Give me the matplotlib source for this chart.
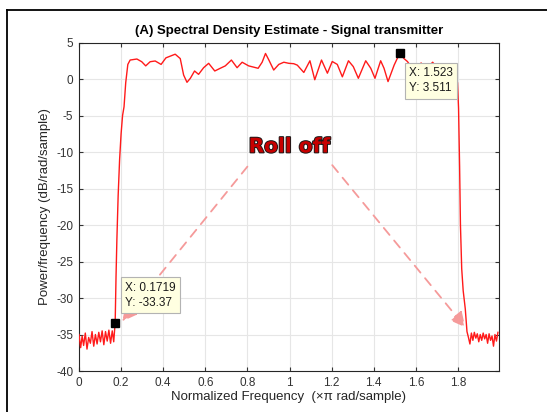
import matplotlib.pyplot as plt
import matplotlib.patheffects as pe
from matplotlib.lines import Line2D

plt.rcParams['font.family'] = ['Liberation Sans', 'DejaVu Sans']
plt.rcParams['axes.unicode_minus'] = False

# Welch PSD estimate of the transmitted signal (normalized frequency, x pi rad/sample)
freq = [0.000, 0.008, 0.015, 0.022, 0.030, 0.038, 0.046, 0.054, 0.062, 0.070,
        0.078, 0.086, 0.094, 0.102, 0.110, 0.118, 0.126, 0.134, 0.142, 0.150,
        0.158, 0.165, 0.1719, 0.176, 0.180, 0.186, 0.193, 0.200, 0.207, 0.214,
        0.222, 0.232, 0.243, 0.275, 0.298, 0.317, 0.338, 0.362, 0.390, 0.413,
        0.457, 0.481, 0.497, 0.513, 0.529, 0.549, 0.568, 0.592, 0.616, 0.645,
        0.671, 0.695, 0.724, 0.751, 0.775, 0.806, 0.851, 0.870, 0.886, 0.902,
        0.925, 0.949, 0.973, 0.997, 1.020, 1.037, 1.068, 1.097, 1.120, 1.152,
        1.180, 1.203, 1.227, 1.251, 1.280, 1.303, 1.327, 1.362, 1.386, 1.406,
        1.433, 1.449, 1.468, 1.497, 1.523, 1.544, 1.560, 1.580, 1.600, 1.625,
        1.650, 1.680, 1.710, 1.740, 1.770, 1.790, 1.798, 1.803, 1.808, 1.812,
        1.818, 1.825, 1.835, 1.843, 1.850, 1.857, 1.864, 1.871, 1.878, 1.885,
        1.892, 1.899, 1.906, 1.913, 1.920, 1.927, 1.934, 1.941, 1.948, 1.955,
        1.962, 1.969, 1.976, 1.983, 1.990]
psd_db = [-35.0, -36.8, -35.2, -36.5, -34.8, -37.0, -35.4, -36.2, -34.6, -36.6,
          -35.0, -36.3, -34.7, -36.0, -34.5, -36.4, -34.6, -35.9, -34.4, -36.2,
          -34.5, -36.0, -33.37, -27.0, -22.0, -16.0, -11.0, -7.5, -5.0, -3.8,
          -0.5, 2.0, 2.6, 2.74, 2.37, 1.8, 2.37, 2.47, 2.0, 2.9,
          3.4, 2.8, 0.55, -0.45, 0.1, 1.1, 0.64, 1.55, 2.15, 1.1,
          1.47, 1.8, 2.6, 1.55, 2.3, 1.8, 1.47, 2.3, 3.5, 2.6,
          1.23, 2.0, 2.3, 2.15, 2.1, 1.9, 0.9, 2.5, -0.1, 2.6,
          0.8, 2.4, 2.0, 0.3, 2.5, 1.7, 0.1, 2.5, 1.47, 0.1,
          2.5, 1.47, -0.35, 1.9, 3.511, 2.8, 2.4, 1.6, 1.0, 2.2,
          1.4, 2.3, 1.2, 2.0, 1.0, 0.3, -0.5, -4.0, -12.0, -20.0,
          -26.0, -29.0, -31.5, -34.6, -35.4, -36.3, -34.8, -35.8, -34.7, -35.5,
          -34.9, -36.0, -35.0, -35.8, -34.8, -35.6, -35.0, -36.2, -34.9, -35.8,
          -35.2, -36.6, -35.0, -35.9, -34.7]

# data cursor points
tips = [(1.523, 3.511), (0.1719, -33.37)]
tip_labels = ['X: 1.523\nY: 3.511', 'X: 0.1719\nY: -33.37']

xticks = [0, 0.2, 0.4, 0.6, 0.8, 1.0, 1.2, 1.4, 1.6, 1.8]
xticklabels = ['0', '0.2', '0.4', '0.6', '0.8', '1', '1.2', '1.4', '1.6', '1.8']
yticks = [-40, -35, -30, -25, -20, -15, -10, -5, 0, 5]

fig = plt.figure(figsize=(5.47, 4.12), dpi=100)
ax = fig.add_axes([0.1444, 0.0995, 0.7678, 0.7973])

ax.plot(freq, psd_db, color='#ff1a1a', lw=1.0, zorder=3)
ax.set_xlim(0, 1.995)
ax.set_ylim(-40, 5)
ax.set_xticks(xticks)
ax.set_xticklabels(xticklabels)
ax.set_yticks(yticks)
ax.grid(True, color='#e6e6e6', lw=0.8)
ax.set_axisbelow(True)
ax.tick_params(direction='in', length=3, top=True, right=True,
               labelsize=8.5, colors='#333333', pad=4)
for s in ax.spines.values():
    s.set_color('#262626')
    s.set_linewidth(0.8)

ax.set_title('(A) Spectral Density Estimate - Signal transmitter',
             fontsize=9.5, fontweight='bold', pad=6)
ax.set_xlabel('Normalized Frequency  (\u00d7\u03c0 rad/sample)', fontsize=9.5,
              color='#262626', labelpad=2)
ax.set_ylabel('Power/frequency (dB/rad/sample)', fontsize=9.5,
              color='#262626', labelpad=4)

# data cursor markers and tip boxes
offsets = [(7, -10), (7, 10)]
for (tx, ty), lab, off in zip(tips, tip_labels, offsets):
    ax.plot([tx], [ty], 's', color='black', ms=6, zorder=5)
    va = 'top' if off[1] < 0 else 'bottom'
    ax.annotate(lab, (tx, ty), xytext=off, textcoords='offset points',
                ha='left', va=va, fontsize=8.5, color='#1a1a1a',
                linespacing=1.35, zorder=6,
                bbox=dict(boxstyle='square,pad=0.35', fc='#ffffe1',
                          ec='#b3b3b3', lw=0.8))

# roll-off arrows
arrow_kw = dict(arrowstyle='-|>,head_length=0.9,head_width=0.45',
                color='#f59a9a', lw=1.3, ls=(0, (5, 4)), shrinkA=0, shrinkB=0)
ax.annotate('', xy=(0.205, -33.2), xytext=(0.80, -12.0),
            arrowprops=arrow_kw, zorder=4)
ax.annotate('', xy=(1.835, -34.0), xytext=(1.203, -11.8),
            arrowprops=arrow_kw, zorder=4)
ax.text(1.0, -9.3, 'Roll off', ha='center', va='center', fontsize=14.5,
        fontweight='bold', color='#c80000', family='DejaVu Sans', zorder=6,
        path_effects=[pe.withStroke(linewidth=1.4, foreground='#1a1a1a')])

# frame lines around the figure
fig.add_artist(Line2D([7 / 547, 1.0], [1 - 10 / 412] * 2, color='black', lw=1.3))
fig.add_artist(Line2D([7 / 547] * 2, [0, 1 - 10 / 412], color='black', lw=1.3))

fig.savefig('out.png', dpi=100)
